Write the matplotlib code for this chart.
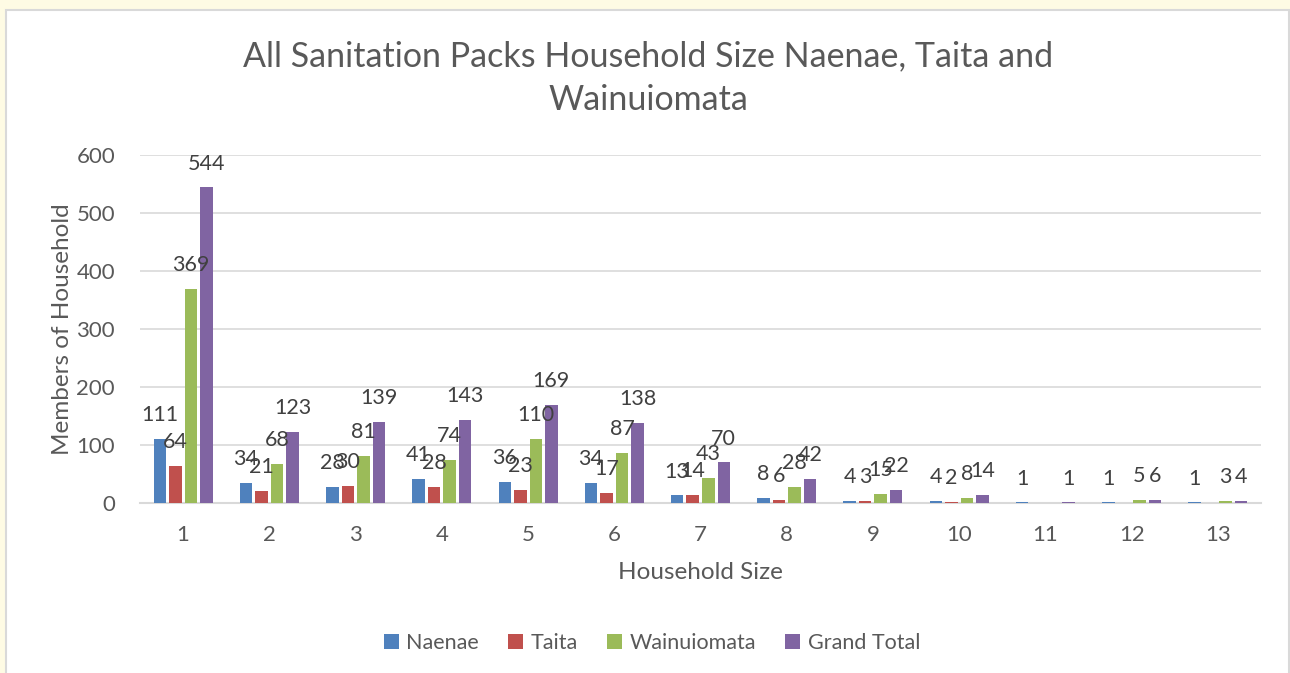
import numpy as np
import matplotlib
matplotlib.use("Agg")
import matplotlib.pyplot as plt
from matplotlib.patches import Rectangle

categories = ["1", "2", "3", "4", "5", "6", "7", "8", "9", "10", "11", "12", "13"]
naenae = [111, 34, 28, 41, 36, 34, 13, 8, 4, 4, 1, 1, 1]
taita = [64, 21, 30, 28, 23, 17, 14, 6, 3, 2, None, None, None]
wainuiomata = [369, 68, 81, 74, 110, 87, 43, 28, 15, 8, None, 5, 3]
grand_total = [544, 123, 139, 143, 169, 138, 70, 42, 22, 14, 1, 6, 4]

series = [("Naenae", naenae, "#4F81BD"),
          ("Taita", taita, "#C0504D"),
          ("Wainuiomata", wainuiomata, "#9BBB59"),
          ("Grand Total", grand_total, "#8064A2")]

plt.rcParams['font.family'] = ['Lato', 'DejaVu Sans']

W, H = 1290, 673
fig = plt.figure(figsize=(W / 100, H / 100), dpi=100)
fig.patch.set_facecolor("#FEFBE4")
fig.patches.append(Rectangle((6 / W, -0.01), (1288.5 - 6) / W, (H - 10) / H + 0.01,
                             transform=fig.transFigure, facecolor="white",
                             edgecolor="#D9D9D9", linewidth=1.5, zorder=-10))

left, right = 140 / W, 1261 / W
bottom, top = (H - 503) / H, (H - 155) / H
ax = fig.add_axes([left, bottom, right - left, top - bottom])
ax.set_zorder(5)
ax.set_facecolor("none")

x = np.arange(1, len(categories) + 1)
step = 0.18
bw = 0.145
offsets = [-1.5 * step, -0.5 * step, 0.5 * step, 1.5 * step]

for (name, vals, col), off in zip(series, offsets):
    v = np.array([np.nan if a is None else a for a in vals], dtype=float)
    ax.bar(x + off, np.nan_to_num(v), width=bw, color=col, label=name, zorder=3)
    for xi, vi in zip(x, v):
        if not np.isnan(vi):
            ax.annotate(f"{int(vi)}", (xi + off, vi), xytext=(0, 10),
                        textcoords="offset points", ha="center", va="bottom",
                        fontsize=15.5, color="#404040", zorder=4)

ax.set_xlim(0.5, len(categories) + 0.5)
ax.set_ylim(0, 600)
ax.set_yticks(range(0, 601, 100))
ax.set_xticks(x)
ax.set_xticklabels(categories)
ax.yaxis.grid(True, color="#D9D9D9", linewidth=1.2, zorder=0)
ax.set_axisbelow(True)
for s in ["top", "right", "left"]:
    ax.spines[s].set_visible(False)
ax.spines["bottom"].set_color("#D9D9D9")
ax.spines["bottom"].set_linewidth(1.5)
ax.tick_params(axis="both", length=0, labelsize=16, colors="#595959")
ax.tick_params(axis="x", pad=16)
ax.tick_params(axis="y", pad=18)

ax.set_xlabel("Household Size", fontsize=17.5, color="#595959", labelpad=12)
ax.set_ylabel("Members of Household", fontsize=17.5, color="#595959", labelpad=2)

fig.text(648 / W, 1 - 78 / H, "All Sanitation Packs Household Size Naenae, Taita and\nWainuiomata",
         ha="center", va="center", fontsize=24.5, color="#595959", linespacing=1.45)

leg = fig.legend(loc="center", bbox_to_anchor=(652 / W, 1 - 643 / H), ncol=4,
                 frameon=False, fontsize=15.5, handlelength=0.7, handleheight=0.7,
                 columnspacing=1.35, handletextpad=0.35, labelcolor="#595959")

fig.savefig("out.png", dpi=100, facecolor=fig.get_facecolor())
